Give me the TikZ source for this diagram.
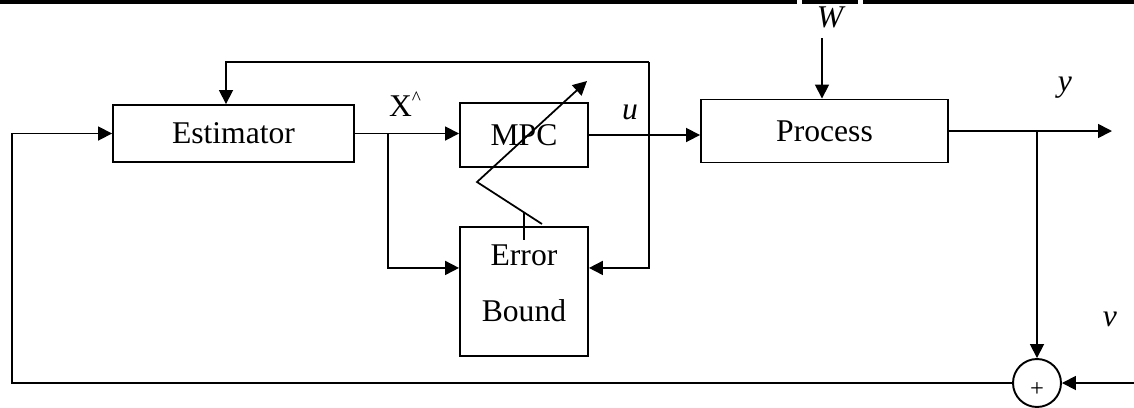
\documentclass[tikz,border=0pt]{standalone}
\usepackage{fontspec}
\setmainfont{Liberation Serif}
\usetikzlibrary{arrows.meta,positioning,calc}

\begin{document}
\begin{tikzpicture}[
    x=0.02cm, y=-0.02cm,
    block/.style={rectangle, draw, line width=1.1pt, inner sep=0pt, font=\fontsize{18}{32}\selectfont},
    sumnode/.style={circle, draw, line width=1.1pt, minimum size=0.96cm, inner sep=0pt},
    lbl/.style={font=\fontsize{18}{20}\selectfont\itshape},
    arrow/.style={-{Triangle[length=0.28cm, width=0.28cm]}, line width=1pt},
    link/.style={line width=1pt}
]
\useasboundingbox (0,0) rectangle (1134,407);

% header rule
\draw[line width=2pt] (0,2) -- (797,2) (802,2) -- (858,2) (863,2) -- (1134,2);

% Blocks
\node[block, minimum width=4.82cm, minimum height=1.14cm] (est) at (233.5,133.5) {Estimator};
\node[block, minimum width=2.56cm, minimum height=1.28cm] (mpc) at (524,135) {MPC};
\node[block, minimum width=2.56cm, minimum height=2.58cm, align=center, text depth=0.32cm] (err) at (524,291.5) {Error\\Bound};
\node[block, minimum width=4.94cm, minimum height=1.26cm] (proc) at (824.5,131) {Process};
\node[sumnode] (sum) at (1037,383) {};
\node[font=\fontsize{14}{14}\selectfont, inner sep=0pt] (plus) at (1037,390) {+};

% Labels
\node[font=\fontsize{18}{20}\selectfont] (xhat) at (405,104) {X\raisebox{7pt}{\fontsize{11}{11}\selectfont\textasciicircum}};
\node[lbl] (ulab) at (630,112) {u};
\node[lbl] (wlab) at (830,17) {W};
\node[lbl] (ylab) at (1065,88) {y};
\node[lbl] (vlab) at (1110,319) {v};

% Helper points
\coordinate (jx) at (388,0);
\coordinate (fbtop) at (649,62);
\coordinate (wtop) at (822,38);
\coordinate (yend) at (1112,0);
\coordinate (vin) at (1134,0);
\coordinate (fbleft) at (12,0);
\coordinate (zzlow) at (542,224);
\coordinate (zzmid) at (477,182);
\coordinate (zzhigh) at (587,81);

% Connectors
\draw[arrow] (est.east) -- (est.east -| mpc.west);
\draw[arrow] (est.east -| jx) |- ($(err.north west)!0.32!(err.south west)$);
\draw[arrow] (fbtop) |- ($(err.north east)!0.32!(err.south east)$);
\draw[arrow] (fbtop) -| ([xshift=-0.15cm]est.north);
\draw[arrow] (mpc.east) -- (mpc.east -| proc.west);
\draw[arrow] (wtop) -- (wtop |- proc.north);
\draw[arrow] (proc.east) -- (proc.east -| yend);
\draw[arrow] (proc.east -| sum) -- (sum.north);
\draw[arrow] (sum.east -| vin) -- (sum.east);
\draw[arrow] (sum.west) -- (sum.west -| fbleft) |- (est.west);

% tuning arrow
\draw[arrow] (zzlow) -- (zzmid) -- (zzhigh);
\draw[link] ([yshift=0.28cm]err.north) -- ([yshift=-0.28cm]err.north);
\end{tikzpicture}
\end{document}
